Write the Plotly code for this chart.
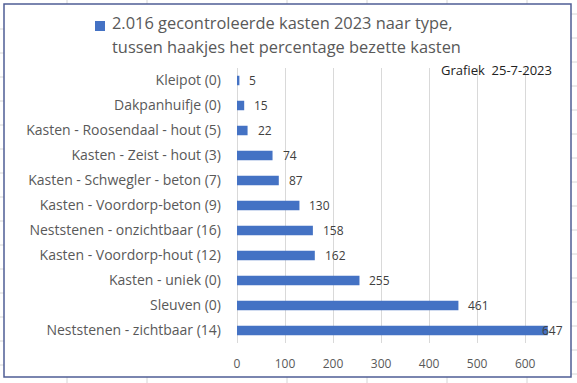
import plotly.graph_objects as go

categories = [
    "Kleipot (0)",
    "Dakpanhuifje (0)",
    "Kasten - Roosendaal - hout (5)",
    "Kasten - Zeist - hout (3)",
    "Kasten - Schwegler - beton (7)",
    "Kasten - Voordorp-beton (9)",
    "Neststenen - onzichtbaar (16)",
    "Kasten - Voordorp-hout (12)",
    "Kasten - uniek (0)",
    "Sleuven (0)",
    "Neststenen - zichtbaar (14)",
]
values = [5, 15, 22, 74, 87, 130, 158, 162, 255, 461, 647]
tick_vals = [0, 100, 200, 300, 400, 500, 600]
title_line1 = "2.016 gecontroleerde kasten 2023 naar type,"
title_line2 = "tussen haakjes het percentage bezette kasten"
note_text = "Grafiek\u00a0 25-7-2023"

W, H = 577, 383
L, R, T, B = 237, 23, 68, 40
X_MAX = 660
pw = W - L - R
ph = H - T - B

def px_x(p):
    return (p - L) / pw

def px_y(p):
    return (H - B - p) / ph

BLUE = "#4472C4"
GRAY = "#595959"
FONT = "Open Sans"
SHEET = "#D6D6D6"

fig = go.Figure()
fig.add_trace(go.Bar(
    y=categories, x=values, orientation="h",
    marker=dict(color=BLUE, line=dict(width=0)),
    hoverinfo="x+y",
))

annotations = []
for c, v in zip(categories, values):
    near_end = v > 0.95 * X_MAX
    annotations.append(dict(
        x=v, y=c, xref="x", yref="y", text=str(v), showarrow=False,
        xanchor="right" if near_end else "left",
        xshift=17 if near_end else 8,
        font=dict(family=FONT, size=12, color="#404040"),
    ))

annotations += [
    dict(x=px_x(110), y=px_y(22), xref="paper", yref="paper", text=title_line1,
         showarrow=False, xanchor="left", yanchor="middle",
         font=dict(family=FONT, size=16.4, color=GRAY)),
    dict(x=px_x(110), y=px_y(47), xref="paper", yref="paper", text=title_line2,
         showarrow=False, xanchor="left", yanchor="middle",
         font=dict(family=FONT, size=16.4, color=GRAY)),
    dict(x=px_x(439), y=px_y(70), xref="paper", yref="paper", text=note_text,
         showarrow=False, xanchor="left", yanchor="middle",
         font=dict(family=FONT, size=13, color="#222222")),
]

shapes = []
# spreadsheet cell lines visible around the chart frame
for cx in [67, 147, 287, 367, 447, 527]:
    shapes.append(dict(type="line", xref="paper", yref="paper",
                       x0=px_x(cx), x1=px_x(cx), y0=px_y(0), y1=px_y(4),
                       line=dict(color=SHEET, width=1)))
    shapes.append(dict(type="line", xref="paper", yref="paper",
                       x0=px_x(cx), x1=px_x(cx), y0=px_y(377), y1=px_y(383),
                       line=dict(color=SHEET, width=1)))
for k in range(16):
    ry = 14 + 24 * k
    shapes.append(dict(type="line", xref="paper", yref="paper",
                       x0=px_x(571), x1=px_x(577), y0=px_y(ry), y1=px_y(ry),
                       line=dict(color=SHEET, width=1)))
for k in range(15):
    ly = 29 + 24 * k
    shapes.append(dict(type="line", xref="paper", yref="paper",
                       x0=px_x(0), x1=px_x(4), y0=px_y(ly), y1=px_y(ly),
                       line=dict(color=SHEET, width=1)))

shapes += [
    dict(type="rect", xref="paper", yref="paper",
         x0=px_x(95), x1=px_x(105), y0=px_y(31), y1=px_y(21),
         fillcolor=BLUE, line=dict(width=0)),
    dict(type="rect", xref="paper", yref="paper",
         x0=px_x(4), x1=px_x(571), y0=px_y(377), y1=px_y(4),
         fillcolor="rgba(0,0,0,0)", line=dict(color="#4F5D95", width=1.5)),
]

fig.update_layout(
    width=W, height=H,
    margin=dict(l=L, r=R, t=T, b=B, pad=0),
    paper_bgcolor="white", plot_bgcolor="white",
    showlegend=False,
    bargap=0.62,
    annotations=annotations,
    shapes=shapes,
    xaxis=dict(
        range=[0, X_MAX], tickvals=tick_vals, ticktext=[str(t) for t in tick_vals],
        showgrid=True, gridcolor="#D9D9D9", gridwidth=1,
        zeroline=True, zerolinecolor="#D9D9D9", zerolinewidth=1,
        showline=False, ticks="",
        tickfont=dict(family=FONT, size=12, color=GRAY),
        ticklabelstandoff=12,
        fixedrange=True,
    ),
    yaxis=dict(
        autorange="reversed", showgrid=False, zeroline=False, showline=False,
        ticks="", tickfont=dict(family=FONT, size=14, color=GRAY),
        ticklabelstandoff=15,
        fixedrange=True,
    ),
)

fig.write_html(
    "out.html",
    config={"displayModeBar": False},
    post_script="document.body.style.margin='0';document.body.style.overflow='hidden';",
)
